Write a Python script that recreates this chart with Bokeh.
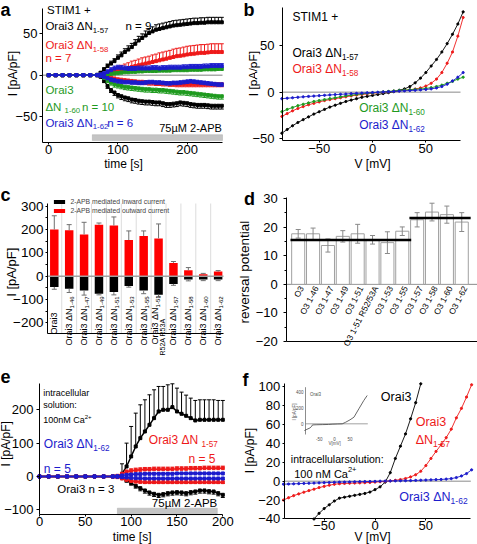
import math
import numpy as np
from bokeh.plotting import figure
from bokeh.models import (Range1d, FixedTicker, LabelSet, ColumnDataSource,
                          BoxAnnotation, Legend, LegendItem)
from bokeh.layouts import column, row
from bokeh.core.properties import value, field
from bokeh.embed import file_html
from bokeh.resources import INLINE

FONT = "Liberation Sans"

BLACK = "#000000"
RED = "#ee1a1a"
GREEN = "#1f9a1f"
BLUE = "#1c1ccc"

# ---------------- panel a data (STIM1 + , 2-APB time course) ----------------
tA = [0, 10, 20, 30, 40, 50, 60, 70, 75, 80, 85, 90, 95, 100, 105, 110, 115, 120, 125, 130,
      135, 140, 145, 150, 155, 160, 165, 170, 175, 180, 185, 190, 195, 200, 205, 210, 215,
      220, 225, 230, 235, 240, 245, 250]
a_k57_out = [0, 0, 0, 0, 0, 0, 0, 0.5, 3, 7, 11, 14, 17, 21, 24, 28, 31, 34, 38, 42, 45, 48, 51,
             53, 55, 56, 57, 58, 59, 60, 60.5, 61, 61.5, 62, 62.5, 63, 63, 63.5, 63.5, 64, 64, 64, 64, 64]
a_k57_out_err = [0, 0, 0, 0, 0, 0, 0, 0.5, 1, 2, 2.5, 3, 3, 3.5, 4, 4, 4.5, 4.5, 5, 5, 5, 5.5, 5.5,
                 5.5, 6, 6, 6, 6, 6, 6, 6, 6, 6, 6, 6, 6, 6, 6, 6, 6, 6, 6, 6, 6]
a_k57_in = [0, 0, 0, 0, 0, 0, 0, 0, -2, -7, -13, -18, -21, -24, -25.5, -27, -28, -29.5, -30, -31,
            -31.5, -32, -32, -32.5, -33, -33, -34, -35, -35, -34.5, -34, -33, -33.5, -34, -35, -35.5,
            -36, -36, -36, -36.5, -37, -37, -37, -37]
a_k57_in_err = [0, 0, 0, 0, 0, 0, 0, 0, 1, 2, 3, 3, 3.5, 3.5, 4, 4, 4, 4, 4, 4, 4, 4, 4, 4, 4, 4,
                4, 4, 4, 4, 4, 4, 4, 4, 4, 4, 4, 4, 4, 4, 4, 4, 4, 4]
a_k58_out = [0, 0, 0, 0, 0, 0, 0, 0, 0.5, 1.5, 2.5, 3.5, 4.5, 5.5, 6.5, 7.5, 8.5, 10, 11, 12, 13,
             14, 15, 16, 17, 18, 19, 20, 21, 22, 23, 23.5, 24, 25, 25.5, 26, 26.5, 27, 27, 27.5, 28,
             28, 28, 28]
a_k58_out_err = [0, 0, 0, 0, 0, 0, 0, 0, 0.5, 1, 2, 3, 4, 5, 5.5, 6, 6.5, 7, 7, 7.5, 8, 8, 8, 8.5,
                 8.5, 9, 9, 9, 9, 9.5, 9.5, 9.5, 10, 10, 10, 10, 10, 10, 10, 10, 10, 10, 10, 10]
a_k58_in = [0, 0, 0, 0, 0, 0, 0, 0, -0.5, -1, -2, -3, -4, -5, -5.5, -6, -6.5, -7, -7.5, -8, -8,
            -8.5, -9, -9, -9.5, -9.5, -10, -10, -10.5, -10.5, -11, -11, -11, -11, -11, -11, -11,
            -11, -11, -11, -11, -11, -11, -11]
a_k58_in_err = [0, 0, 0, 0, 0, 0, 0, 0, 0.5, 1, 1.5, 2, 2, 2.5, 2.5, 3, 3, 3, 3, 3, 3, 3, 3, 3, 3,
                3, 3, 3, 3, 3, 3, 3, 3, 3, 3, 3, 3, 3, 3, 3, 3, 3, 3, 3]
a_k60_out = [0, 0, 0, 0, 0, 0, 0, 0, 0.3, 0.5, 1, 1.5, 2, 2.5, 3, 3.5, 3.5, 4, 4, 4.5, 4.5, 5, 5,
             5, 5, 5.5, 5.5, 5.5, 5.5, 6, 6, 6, 6, 6, 6.5, 6.5, 6.5, 6.5, 7, 7, 7, 7, 7.5, 7.5]
a_k60_out_err = [0, 0, 0, 0, 0, 0, 0, 0, 0.5, 1, 1.5, 2, 2, 2, 2, 2, 2, 2, 2, 2, 2, 2, 2, 2, 2, 2,
                 2, 2, 2, 2, 2, 2, 2, 2, 2, 2, 2, 2, 2, 2, 2, 2, 2, 2]
a_k60_in = [0, 0, 0, 0, 0, 0, 0, 0, -1, -3, -6, -9, -11, -12, -13, -14, -14.5, -15, -15.5, -16,
            -16.5, -17, -17, -17.5, -17.5, -18, -18, -18.5, -19, -19.5, -20, -20.5, -20.5, -21,
            -21.5, -22, -22.5, -23, -23.5, -24, -24.5, -25, -25.5, -25.5]
a_k60_in_err = [0, 0, 0, 0, 0, 0, 0, 0, 1, 2, 3, 3, 3.5, 3.5, 3.5, 3.5, 3.5, 3.5, 3.5, 3.5, 3.5,
                3.5, 3.5, 3.5, 3.5, 3.5, 3.5, 3.5, 3.5, 3.5, 3.5, 3.5, 3.5, 3.5, 3.5, 3.5, 3.5, 3.5,
                3.5, 3.5, 3.5, 3.5, 3.5, 3.5]
a_k62_out = [0, 0, 0, 0, 0, 0, 0, 0, 1, 2, 4, 6, 8, 9, 8.5, 8, 7.5, 7.5, 7.5, 8, 8, 8, 8, 8.5,
             8.5, 8, 8.5, 8.5, 9, 9, 9, 9, 9.5, 9.5, 10, 10, 10, 10, 10.5, 10.5, 11, 11, 11, 11]
a_k62_out_err = [0, 0, 0, 0, 0, 0, 0, 0, 1, 2, 2.5, 3, 3, 3, 3, 3, 3, 3, 3, 3, 3, 3, 3, 3, 3, 3,
                 3, 3, 3, 3, 3, 3, 3, 3, 3, 3, 3, 3, 3, 3, 3, 3, 3, 3]
a_k62_in = [0, 0, 0, 0, 0, 0, 0, 0, -1, -2, -3.5, -5, -6, -7, -7.5, -8, -8, -8.5, -8.5, -9, -9,
            -8.5, -8, -8, -8.5, -8.5, -9, -9.5, -9.5, -9, -9, -8.5, -8, -7.5, -7, -7.5, -8, -8.5,
            -9, -9.5, -10, -10.5, -11, -11]
a_k62_in_err = [0, 0, 0, 0, 0, 0, 0, 0, 1, 1.5, 2, 2.5, 2.5, 2.5, 2.5, 2.5, 2.5, 2.5, 2.5, 2.5,
                2.5, 2.5, 2.5, 2.5, 2.5, 2.5, 2.5, 2.5, 2.5, 2.5, 2.5, 2.5, 2.5, 2.5, 2.5, 2.5, 2.5,
                2.5, 2.5, 2.5, 2.5, 2.5, 2.5, 2.5]
APB_A = (63, 251)

# ---------------- panel b data (I/V) ----------------
VB = [-85, -80, -75, -70, -65, -60, -55, -50, -45, -40, -35, -30, -25, -20, -15, -10, -5, 0, 5,
      10, 15, 20, 25, 30, 35, 40, 45, 50, 55, 60, 65, 70, 75, 80, 85]
b_k57 = [-44, -40, -36, -32.5, -29.5, -26.5, -23.5, -21, -18.5, -16, -14, -12, -10, -8.5, -7,
         -5.5, -4.5, -3.5, -2.5, -1.5, -0.5, 0.5, 2, 3.5, 6, 10, 15, 21, 28, 35, 43, 52, 62, 73, 86]
b_k58 = [-26, -23, -20, -17.5, -15.5, -13.5, -12, -10.5, -9, -8, -7, -6, -5, -4, -3.2, -2.5,
         -1.8, -1.2, -0.6, 0, 0.5, 1, 1.5, 2, 2.6, 3.3, 4.5, 6.5, 9.5, 14, 21, 31, 43, 60, 80]
b_k60 = [-21, -18.5, -16.5, -14.5, -13, -11.5, -10, -9, -8, -7, -6, -5, -4, -3.2, -2.5, -1.8,
         -1.2, -0.8, -0.3, 0.3, 0.8, 1.3, 1.8, 2.2, 2.6, 3, 3.4, 4, 4.8, 6, 7.5, 9.5, 11.5, 14, 16]
b_k62 = [-7, -6.5, -6, -5.5, -5, -4.6, -4.2, -3.8, -3.4, -3, -2.6, -2.3, -2, -1.6, -1.3, -1,
         -0.7, -0.4, -0.1, 0.2, 0.5, 0.8, 1.1, 1.4, 1.7, 2, 2.4, 2.9, 3.5, 4.5, 6, 8.5, 12, 16, 21]

# ---------------- panel c data (2-APB mediated currents) ----------------
c_main = ["Orai3", "Orai3 ΔN", "Orai3 ΔN", "Orai3 ΔN", "Orai3 ΔN", "Orai3 ΔN", "Orai3 ΔN",
          "Orai3 ΔN", "Orai3 ΔN", "Orai3 ΔN", "Orai3 ΔN", "Orai3 ΔN"]
c_sub = ["", "1-46", "1-47", "1-49", "1-51", "1-53", "1-55", "1-51", "1-57", "1-58", "1-60", "1-62"]
c_second = ["", "", "", "", "", "", "", "R52A R53A", "", "", "", ""]
c_pos = [1, 2, 3, 4, 5, 6, 7, 8, 9, 10, 11, 12]
c_outward = [200, 197, 179, 221, 217, 155, 172, 162, 57, 25, 8, 20]
c_outward_err = [59, 24, 52, 7, 37, 39, 22, 62, 6, 12, 4, 4]
c_inward = [-46, -54, -61, -75, -68, -42, -61, -79, -33, -14, -14, -14]
c_inward_err = [10, 16, 20, 5, 12, 5, 14, 10, 6, 6, 5, 5]

# ---------------- panel d data (reversal potential) ----------------
d_labels = ["O3", "O3 1-46", "O3 1-47", "O3 1-49", "O3 1-51", "O3 1-51 R52/53A", "O3 1-53",
            "O3 1-55", "O3 1-57", "O3 1-58", "O3 1-60", "O3 1-62"]
d_pos = [1, 2, 3, 4, 5, 6, 7, 8, 9, 10, 11, 12]
d_erev = [17.7, 17.7, 13.6, 16.8, 17.7, 15.6, 14.6, 18.6, 22.6, 25.3, 24.4, 21.8]
d_erev_err = [1.5, 2, 2.3, 2, 3.3, 1.5, 3.8, 1.5, 2.5, 3.1, 3, 3.3]
d_group_first = [1, 9]
d_group_last = [8, 12]
d_group_mean = [15.5, 23.2]

# ---------------- panel e data (100 nM Ca2+ intracellular) ----------------
tE = [0, 10, 20, 30, 40, 50, 60, 70, 80, 85, 90, 95, 100, 105, 110, 115, 120, 125, 130, 135,
      140, 145, 150, 155, 160, 165, 170, 175, 180, 185, 190, 195, 200]
e_wt_out = [0, 0, 0, 0, 0, 0, 0, 0, 0, 0, 8, 30, 60, 90, 115, 135, 155, 175, 195, 200, 200, 208,
            195, 188, 182, 175, 168, 170, 170, 170, 170, 170, 170]
e_wt_out_err = [0, 0, 0, 0, 0, 0, 0, 0, 0, 0, 30, 70, 90, 100, 100, 95, 90, 85, 75, 70, 75, 70,
                70, 65, 62, 60, 60, 60, 60, 60, 60, 58, 58]
e_wt_in = [0, 0, 0, 0, 0, 0, 0, 0, 0, 0, -5, -12, -20, -28, -35, -42, -48, -52, -55, -53, -50,
           -48, -47, -48, -50, -47, -45, -42, -42, -44, -45, -50, -55]
e_wt_in_err = [0, 0, 0, 0, 0, 0, 0, 0, 0, 0, 3, 5, 6, 7, 8, 8, 8, 8, 8, 8, 8, 8, 8, 8, 8, 8, 8,
               8, 8, 8, 8, 8, 8]
e_k57_out = [0, 0, 0, 0, 0, 0, 0, 0, 0, 2, 8, 14, 17, 19, 20, 21, 21, 22, 22, 22, 22, 22, 23, 23,
             23, 24, 24, 24, 25, 25, 25, 25, 25]
e_k57_out_err = [0, 0, 0, 0, 0, 0, 0, 0, 0, 2, 4, 5, 6, 6, 6, 6, 6, 6, 6, 6, 6, 6, 6, 6, 6, 6, 6,
                 6, 6, 6, 6, 6, 6]
e_k57_in = [0, 0, 0, 0, 0, 0, 0, 0, 0, -2, -6, -10, -13, -15, -16, -17, -17, -17, -17, -17, -17,
            -17, -17, -17, -17, -17, -17, -17, -17, -17, -17, -17, -17]
e_k57_in_err = [0, 0, 0, 0, 0, 0, 0, 0, 0, 2, 3, 3, 4, 4, 4, 4, 4, 4, 4, 4, 4, 4, 4, 4, 4, 4, 4,
                4, 4, 4, 4, 4, 4]
e_k62_out = [0, 0, 0, 0, 0, 0, 0, 0, 0, 1, 3, 5, 6, 7, 7, 8, 8, 8, 8, 8, 8, 8, 9, 9, 9, 9, 9, 9,
             9, 9, 9, 9, 9]
e_k62_out_err = [0, 0, 0, 0, 0, 0, 0, 0, 0, 1, 2, 3, 3, 3, 3, 3, 3, 3, 3, 3, 3, 3, 3, 3, 3, 3, 3,
                 3, 3, 3, 3, 3, 3]
e_k62_in = [0, 0, 0, 0, 0, 0, 0, 0, 0, -1, -2, -3, -4, -5, -5, -6, -6, -6, -6, -6, -6, -6, -6, -6,
            -6, -6, -6, -6, -6, -6, -6, -6, -6]
e_k62_in_err = [0, 0, 0, 0, 0, 0, 0, 0, 0, 1, 2, 3, 3, 3, 3, 3, 3, 3, 3, 3, 3, 3, 3, 3, 3, 3, 3,
                3, 3, 3, 3, 3, 3]
APB_E = (85, 194)

# ---------------- panel f data (I/V, 100 nM Ca2+) ----------------
VF_wt = [-60, -55, -50, -45, -40, -35, -30, -25, -20, -15, -10, -5, 0, 5, 10, 15, 20, 25, 30,
         35, 40, 45]
f_wt = [-40, -34, -29, -25, -21, -18, -17, -16, -15, -14, -13, -11.5, -9, -6, -1, 9, 24, 37, 50,
        66, 83, 103]
VF = [-90, -85, -80, -75, -70, -65, -60, -55, -50, -45, -40, -35, -30, -25, -20, -15, -10, -5,
      0, 5, 10, 15, 20, 25, 30, 35, 40, 45, 50, 55, 60, 65, 70, 75, 80, 85, 90, 95]
f_k57 = [-20, -17.5, -15.3, -13.5, -11.7, -10, -8.5, -6.8, -5.5, -4.3, -3.3, -2.7, -2.4, -2.2,
         -2, -1.8, -1.6, -1.4, -1, -0.6, -0.2, 0.3, 0.9, 1.7, 2.8, 4.5, 6.8, 10.5, 16.5, 24, 31.5,
         38.5, 46, 55, 67, 77, 89, 102]
f_k62 = [-3.2, -3, -2.8, -2.6, -2.4, -2.2, -2, -1.8, -1.6, -1.4, -1.2, -1, -0.9, -0.8, -0.6,
         -0.5, -0.4, -0.3, -0.2, 0, 0.1, 0.2, 0.3, 0.4, 0.5, 0.6, 0.8, 1, 1.2, 1.4, 1.6, 1.8, 2.2,
         2.7, 3.8, 5.5, 8, 12]
inset_v = [-98, -90, -80, -74, -72, -60, -40, -20, -8, 10, 25, 36, 50, 63, 79, 95, 106]
inset_i = [-85, -70, -52, -30, -14, -12, -10, -8, -5, -2, 0, 20, 50, 84, 190, 295, 358]
INSET_V = (-94.5, 108.0)
INSET_I = (-135.0, 463.0)
inset_yticks = [0, 200, 400]
inset_xticks = [-50, 0, 50]

# ---------------- helpers ----------------
CW = {' ': .278, '+': .584, '-': .333, '/': .278, ':': .278, '=': .584, '[': .278, ']': .278,
      'A': .667, 'B': .667, 'C': .722, 'D': .722, 'I': .278, 'M': .833, 'N': .722, 'O': .778,
      'P': .667, 'R': .722, 'S': .667, 'T': .611, 'a': .556, 'c': .5, 'd': .556, 'e': .556,
      'i': .222, 'l': .222, 'm': .833, 'n': .556, 'o': .556, 'p': .556, 'r': .333, 's': .5,
      't': .278, 'u': .556, 'v': .5, 'w': .722, 'Δ': .668, 'µ': .577}


def tw(s, size):
    return sum(CW.get(ch, 0.556) for ch in s) * size


class Texts:
    def __init__(self):
        self.d = {k: [] for k in ("x", "y", "text", "color", "size", "align", "angle",
                                  "xo", "yo", "style")}

    def _row(self, x, y, s, color, size, align, angle, xo, yo, style):
        for k, v in (("x", x), ("y", y), ("text", s), ("color", color),
                     ("size", "%.1fpx" % size), ("align", align), ("angle", angle),
                     ("xo", xo), ("yo", yo), ("style", style)):
            self.d[k].append(v)

    def add(self, x, y, pieces, color=BLACK, size=11.0, angle=0.0, align="left",
            dx=0.0, dy=0.0, style="normal"):
        if isinstance(pieces, str):
            pieces = [(pieces, "n")]
        if len(pieces) == 1 and pieces[0][1] == "n":
            self._row(x, y, pieces[0][0], color, size, align, angle, dx, dy, style)
            return
        ca, sa = math.cos(angle), math.sin(angle)
        sizes = [size if k == "n" else size * 0.68 for _, k in pieces]
        total = sum(tw(s, z) for (s, _), z in zip(pieces, sizes))
        adv = {"left": 0.0, "center": -total / 2, "right": -total}[align]
        for (s, k), z in zip(pieces, sizes):
            v = 0.0 if k == "n" else (-0.32 * size if k == "sub" else 0.38 * size)
            self._row(x, y, s, color, z, "left", angle,
                      dx + adv * ca - v * sa, dy + adv * sa + v * ca, style)
            adv += tw(s, z)

    def attach(self, p, **kw):
        src = ColumnDataSource(self.d)
        p.add_layout(LabelSet(x=field("x"), y=field("y"), text=field("text"), source=src,
                              x_offset=field("xo"), y_offset=field("yo"), angle=field("angle"),
                              text_color=field("color"), text_font_size=field("size"),
                              text_align=field("align"), text_baseline="middle",
                              text_font_style=field("style"), text_font=value(FONT), **kw))


HALF_PI = math.pi / 2


class Panel:
    """A figure whose frame fills its whole cell; the plot box (axes) sits where the
    reference has it, and axes are drawn at fixed locations on the box edges."""

    def __init__(self, x0, y0, W, H, box, xr, yr):
        self.x0, self.y0, self.W, self.H = x0, y0, W, H
        l, t, r, b = box
        self.l, self.b = l, b
        self.xr, self.yr = xr, yr
        self.kx = (xr[1] - xr[0]) / (r - l)
        self.ky = (yr[1] - yr[0]) / (b - t)
        self.p = figure(width=W, height=H,
                        x_range=Range1d(self.dx(x0), self.dx(x0 + W)),
                        y_range=Range1d(self.dy(y0 + H), self.dy(y0)),
                        output_backend="svg", toolbar_location=None, title=None,
                        min_border=0)
        self.p.outline_line_color = None
        self.p.xgrid.visible = False
        self.p.ygrid.visible = False
        self.t = Texts()

    def dx(self, rx):
        return self.xr[0] + (rx - self.l) * self.kx

    def dy(self, ry):
        return self.yr[0] + (self.b - ry) * self.ky

    def axes(self, xticks, yticks, yminor=None, xsize="13px", ysize="13px",
             xtick=2, xstand=0, ytick=3, ystand=2):
        for ax, ticks, minor, size, to, st, loc, bnd in (
                (self.p.xaxis[0], xticks, None, xsize, xtick, xstand, self.yr[0], self.xr),
                (self.p.yaxis[0], yticks, yminor, ysize, ytick, ystand, self.xr[0], self.yr)):
            ax.ticker = FixedTicker(ticks=ticks, minor_ticks=minor or [])
            ax.fixed_location = loc
            ax.bounds = bnd
            ax.major_label_text_font = FONT
            ax.major_label_text_font_size = size
            ax.major_label_text_color = BLACK
            ax.axis_line_color = BLACK
            ax.major_tick_line_color = BLACK
            ax.minor_tick_line_color = BLACK
            ax.major_tick_out = to
            ax.major_tick_in = 0
            ax.minor_tick_out = 2
            ax.minor_tick_in = 0
            ax.major_label_standoff = st

    def ref_text(self, rx, ry, text, size, angle=0.0, align="center", style="normal"):
        self.t.add(self.dx(rx), self.dy(ry), text, BLACK, size, angle=angle, align=align,
                   style=style)

    def letter(self, rx, ry_mid, letter):
        self.ref_text(rx, ry_mid, letter, 18, align="left", style="bold")

    def hline(self, y, color, width):
        self.p.segment(x0=[self.xr[0]], y0=[y], x1=[self.xr[1]], y1=[y], line_color=color,
                       line_width=width, level="underlay")

    def finish(self):
        self.t.attach(self.p)
        return self.p


def trace(p, t, y, err, sign, color, lw=1.2, ms=3, cap=4):
    t = np.asarray(t, float)
    y = np.asarray(y, float)
    e = np.asarray(err, float)
    p.line(t, y, line_color=color, line_width=lw)
    p.scatter(t, y, marker="square", size=ms, fill_color=color, line_color=color)
    m = e > 0
    tip = y + sign * e
    p.segment(t[m], y[m], t[m], tip[m], line_color=color, line_width=1)
    p.scatter(t[m], tip[m], marker="dash", size=cap, line_color=color, line_width=1)


# =============== panel a ===============
A = Panel(0, 0, 237, 175, (42, 8, 222, 142), (-9, 251), (-81.5, 80.7))
A.axes([0, 100, 200], [-50, 0, 50])
A.hline(0, "#a8a8a8", 1.5)
A.p.add_layout(BoxAnnotation(left=APB_A[0], right=APB_A[1], bottom=-79.2, top=-72.0,
                             fill_color="#c4c4c4", fill_alpha=1, line_color="#8c8c8c",
                             line_width=1, level="underlay"))
for ys, es, sg, col in ((a_k57_out, a_k57_out_err, 1, BLACK), (a_k57_in, a_k57_in_err, -1, BLACK),
                        (a_k58_out, a_k58_out_err, 1, RED), (a_k58_in, a_k58_in_err, -1, RED),
                        (a_k60_out, a_k60_out_err, 1, GREEN), (a_k60_in, a_k60_in_err, -1, GREEN),
                        (a_k62_out, a_k62_out_err, 1, BLUE), (a_k62_in, a_k62_in_err, -1, BLUE)):
    trace(A.p, tA, ys, es, sg, col)
ta = A.t
ta.add(-2.5, 78.6, "STIM1 +", BLACK, 11.5)
ta.add(-4.8, 59, [("Orai3 ΔN", "n"), ("1-57", "sub")], BLACK, 11.5)
ta.add(110.8, 59, "n =  9", BLACK, 11.5)
ta.add(-4.8, 36, [("Orai3 ΔN", "n"), ("1-58", "sub")], RED, 11.5)
ta.add(-4.8, 21, "n =  7", RED, 11.5)
ta.add(-4.8, -18.5, "Orai3", GREEN, 11.5)
ta.add(-4.8, -38.7, [("ΔN ", "n"), ("1-60", "sub")], GREEN, 11.5)
ta.add(48, -38.7, "n =  10", GREEN, 11.5)
ta.add(-4.8, -58, [("Orai3 ΔN", "n"), ("1-62", "sub")], BLUE, 11.5)
ta.add(84.4, -58, "n =  6", BLUE, 11.5)
ta.add(250, -64.3, "75µM 2-APB", BLACK, 11, align="right")
A.ref_text(12.5, 73, "I [pA/pF]", 12, angle=HALF_PI)
A.ref_text(123, 163.3, "time [s]", 12)
A.letter(0, 9.2, "a")

# =============== panel b ===============
B = Panel(237, 0, 240, 175, (282, 7, 460, 140), (-84.4, 82.5), (-51.8, 90.7))
B.axes([-50, 0, 50], [-50, 0, 50], xstand=1, ystand=5)
B.hline(0, "#8a8a8a", 1)
for ys, col in ((b_k57, BLACK), (b_k58, RED), (b_k60, GREEN), (b_k62, BLUE)):
    B.p.line(VB, ys, line_color=col, line_width=0.9)
    B.p.scatter(VB, ys, marker="circle", size=2.2, fill_color=col, line_color=col)
tb = B.t
tb.add(-75, 80.5, "STIM1 +", BLACK, 12)
tb.add(-75, 41.8, [("Orai3 ΔN", "n"), ("1-57", "sub")], BLACK, 12)
tb.add(-75, 25, [("Orai3 ΔN", "n"), ("1-58", "sub")], RED, 12)
tb.add(-12.5, -16.8, [("Orai3 ΔN", "n"), ("1-60", "sub")], GREEN, 12)
tb.add(-12.5, -35.7, [("Orai3 ΔN", "n"), ("1-62", "sub")], BLUE, 12)
B.ref_text(253, 73, "I [pA/pF]", 12, angle=HALF_PI)
B.ref_text(372, 163.3, "V [mV]", 12)
B.letter(243, 9.2, "b")

# =============== panel c ===============
C = Panel(0, 175, 237, 185, (47, 203, 223, 333), (0.544, 12.36), (-245.6, 311.6))
C.axes([], [-200, -100, 0, 100, 200, 300], yminor=[-150, -50, 50, 150, 250], ysize="13.5px",
       ytick=2, ystand=2)
for b in range(1, 12):
    C.p.segment(x0=[b + 0.5], y0=[C.yr[0]], x1=[b + 0.5], y1=[C.yr[1]], line_color="#dcdcdc",
                line_width=1, level="underlay")
r_out = C.p.vbar(x=c_pos, width=0.57, top=c_outward, bottom=0, fill_color="#ff0000",
                 line_color=None)
r_in = C.p.vbar(x=c_pos, width=0.57, top=0, bottom=c_inward, fill_color="#000000",
                line_color=None)
cx = np.asarray(c_pos, float)
co_tip = np.asarray(c_outward, float) + np.asarray(c_outward_err, float)
ci_tip = np.asarray(c_inward, float) - np.asarray(c_inward_err, float)
C.p.segment(cx, c_outward, cx, co_tip, line_color="#707070", line_width=1)
C.p.scatter(cx, co_tip, marker="dash", size=5, line_color="#707070")
C.p.segment(cx, c_inward, cx, ci_tip, line_color="#707070", line_width=1)
C.p.scatter(cx, ci_tip, marker="dash", size=5, line_color="#707070")
C.p.segment(x0=[C.xr[0]], y0=[0], x1=[C.xr[1]], y1=[0], line_color="#a0a0a0", line_width=1.5)
leg = Legend(items=[LegendItem(label="2-APB mediated inward current", renderers=[r_in]),
                    LegendItem(label="2-APB mediated outward current", renderers=[r_out])],
             location=(51.5, 146), label_text_font=FONT, label_text_font_size="6.8px",
             glyph_width=14, glyph_height=5, label_height=6, label_standoff=5, spacing=2,
             padding=0, margin=0, border_line_color=None, background_fill_alpha=0)
C.p.add_layout(leg)
tc = C.t
for i, (mn, sb, sec) in enumerate(zip(c_main, c_sub, c_second)):
    pos = c_pos[i]
    if sec:
        tc.add(pos - 0.24, C.dy(344), [(mn, "n"), (sb, "sub")], BLACK, 9, angle=HALF_PI)
        tc.add(pos + 0.27, C.dy(355), sec, BLACK, 7, angle=HALF_PI)
    elif sb:
        tc.add(pos, C.dy(345), [(mn, "n"), (sb, "sub")], BLACK, 9, angle=HALF_PI)
    else:
        tc.add(pos, C.dy(334), mn, BLACK, 9, angle=HALF_PI)
C.ref_text(10.8, 271.7, "I [pA/pF]", 13, angle=HALF_PI)
C.letter(0, 194.2, "c")

# =============== panel d ===============
D = Panel(237, 175, 240, 185, (286.3, 197, 477, 341), (0.233, 13.06), (-20, 30.4))
D.axes([], [-20, -10, 0, 10, 20, 30], yminor=[-15, -5, 5, 15, 25], ytick=3, ystand=6)
D.hline(0, "#8a8a8a", 1)
D.p.vbar(x=d_pos, width=0.88, top=d_erev, bottom=0, fill_color="white",
         line_color="#a0a0a0", line_width=1)
dx_ = np.asarray(d_pos, float)
d_hi = np.asarray(d_erev, float) + np.asarray(d_erev_err, float)
d_lo = np.asarray(d_erev, float) - np.asarray(d_erev_err, float)
D.p.segment(dx_, d_lo, dx_, d_hi, line_color="#8a8a8a", line_width=1)
D.p.scatter(dx_, d_hi, marker="dash", size=5, line_color="#8a8a8a")
D.p.scatter(dx_, d_lo, marker="dash", size=5, line_color="#8a8a8a")
D.p.segment(x0=[f - 0.52 for f in d_group_first], y0=d_group_mean,
            x1=[l + 0.6 for l in d_group_last], y1=d_group_mean,
            line_color=BLACK, line_width=2.5)
for pos, lab in zip(d_pos, d_labels):
    D.t.add(pos + 0.22, -0.8, lab, BLACK, 8.5, angle=math.radians(63), align="right")
D.ref_text(244.3, 271.7, "reversal potential", 13.5, angle=HALF_PI)
D.letter(243.5, 198.2, "d")

# =============== panel e ===============
E = Panel(0, 360, 237, 184, (39, 383.3, 222.3, 514.3), (0, 200), (-115, 278))
E.axes([0, 50, 100, 150, 200], [-100, 0, 100, 200], ystand=3)
E.p.add_layout(BoxAnnotation(left=APB_E[0], right=APB_E[1], bottom=-115, top=-95,
                             fill_color="#c4c4c4", fill_alpha=1, line_color="#8c8c8c",
                             line_width=1, level="underlay"))
for ys, es, sg, col in ((e_wt_out, e_wt_out_err, 1, BLACK), (e_wt_in, e_wt_in_err, -1, BLACK),
                        (e_k57_out, e_k57_out_err, 1, RED), (e_k57_in, e_k57_in_err, -1, RED),
                        (e_k62_out, e_k62_out_err, 1, BLUE), (e_k62_in, e_k62_in_err, -1, BLUE)):
    trace(E.p, tE, ys, es, sg, col, lw=1.5)
te = E.t
te.add(4, 251, "intracellular", BLACK, 9)
te.add(4, 213, "solution:", BLACK, 9)
te.add(4, 168, [("100nM Ca", "n"), ("2+", "sup")], BLACK, 9)
te.add(4.7, 98, [("Orai3 ΔN", "n"), ("1-62", "sub")], BLUE, 12)
te.add(4.7, 23, "n = 5", BLUE, 12)
te.add(119.3, 108, [("Orai3  ΔN", "n"), ("1-57", "sub")], RED, 12)
te.add(192, 53, "n = 5", RED, 12, align="right")
te.add(19.3, -37, "Orai3    n = 3", BLACK, 11.5)
te.add(194, -80, "75µM 2-APB", BLACK, 11.5, align="right")
E.ref_text(5.8, 443.3, "I [pA/pF]", 12, angle=HALF_PI)
E.ref_text(131.7, 536.7, "time [s]", 12)
E.letter(0, 375.9, "e")

# =============== panel f ===============
F = Panel(237, 360, 240, 184, (283.7, 383.3, 470.3, 518.3), (-89.3, 94.2), (-39.8, 103))
F.axes([-50, 0, 50], [-40, -20, 0, 20, 40, 60, 80, 100], ytick=2, ystand=2)
F.hline(0, "#8a8a8a", 1)
for vs, ys, col in ((VF_wt, f_wt, BLACK), (VF, f_k57, RED), (VF, f_k62, BLUE)):
    F.p.line(vs, ys, line_color=col, line_width=0.9)
    F.p.scatter(vs, ys, marker="circle", size=2.2, fill_color=col, line_color=col)
# inset: its own ranges mapped onto the inset box
IB = (305.0, 386.7, 367.3, 434.0)  # inset box in reference pixels (l, t, r, b)
kx = (INSET_V[1] - INSET_V[0]) / (IB[2] - IB[0])
ky = (INSET_I[1] - INSET_I[0]) / (IB[3] - IB[1])
F.p.extra_x_ranges = {"ix": Range1d(INSET_V[0] - (IB[0] - F.x0) * kx,
                                    INSET_V[1] + (F.x0 + F.W - IB[2]) * kx)}
F.p.extra_y_ranges = {"iy": Range1d(INSET_I[0] - (F.y0 + F.H - IB[3]) * ky,
                                    INSET_I[1] + (IB[1] - F.y0) * ky)}
IR = dict(x_range_name="ix", y_range_name="iy")
F.p.segment(x0=[INSET_V[0]], y0=[0], x1=[INSET_V[1]], y1=[0], line_color="#8a8a8a",
            line_width=0.8, **IR)
F.p.segment(x0=[INSET_V[0]], y0=[INSET_I[0]], x1=[INSET_V[0]], y1=[INSET_I[1]],
            line_color="#707070", line_width=0.8, **IR)
F.p.line(inset_v, inset_i, line_color="#404040", line_width=0.8, **IR)
tfi = Texts()
for yt in inset_yticks:
    tfi.add(INSET_V[0], yt, str(yt), "#505050", 4.5, align="right", dx=-2)
for xt in inset_xticks:
    tfi.add(xt, INSET_I[0], str(xt), "#505050", 4.5, align="center", dy=-4)
tfi.add(0, INSET_I[0], "V[mV]", "#505050", 4.5, align="center", dy=-9)
tfi.add(INSET_V[0], 150, "I [pA/pF]", "#505050", 4.5, angle=HALF_PI, align="center", dx=-11)
tfi.add(-80, 370, "Orai3", "#505050", 4.5)
tfi.attach(F.p, **IR)
tf = F.t
tf.add(5.7, 88.9, "Orai3", BLACK, 12.5)
tf.add(40, 62.4, "Orai3", RED, 12.5)
tf.add(40, 43.8, [("ΔN", "n"), ("1-57", "sub")], RED, 12.5)
tf.add(-82.8, 23.7, "intracellularsolution:", BLACK, 10.5)
tf.add(-79.5, 7.8, [("100 nM Ca", "n"), ("2+", "sup")], BLACK, 11)
tf.add(23.8, -16.9, [("Orai3 ΔN", "n"), ("1-62", "sub")], BLUE, 12.5)
F.ref_text(249.5, 450, "I [pA/pF]", 12, angle=HALF_PI)
F.ref_text(372, 536.7, "V [mV]", 12)
F.letter(242, 379.2, "f")

layout = column(row(A.finish(), B.finish()), row(C.finish(), D.finish()),
                row(E.finish(), F.finish()))
open("out.html", "w").write(file_html(layout, INLINE))
